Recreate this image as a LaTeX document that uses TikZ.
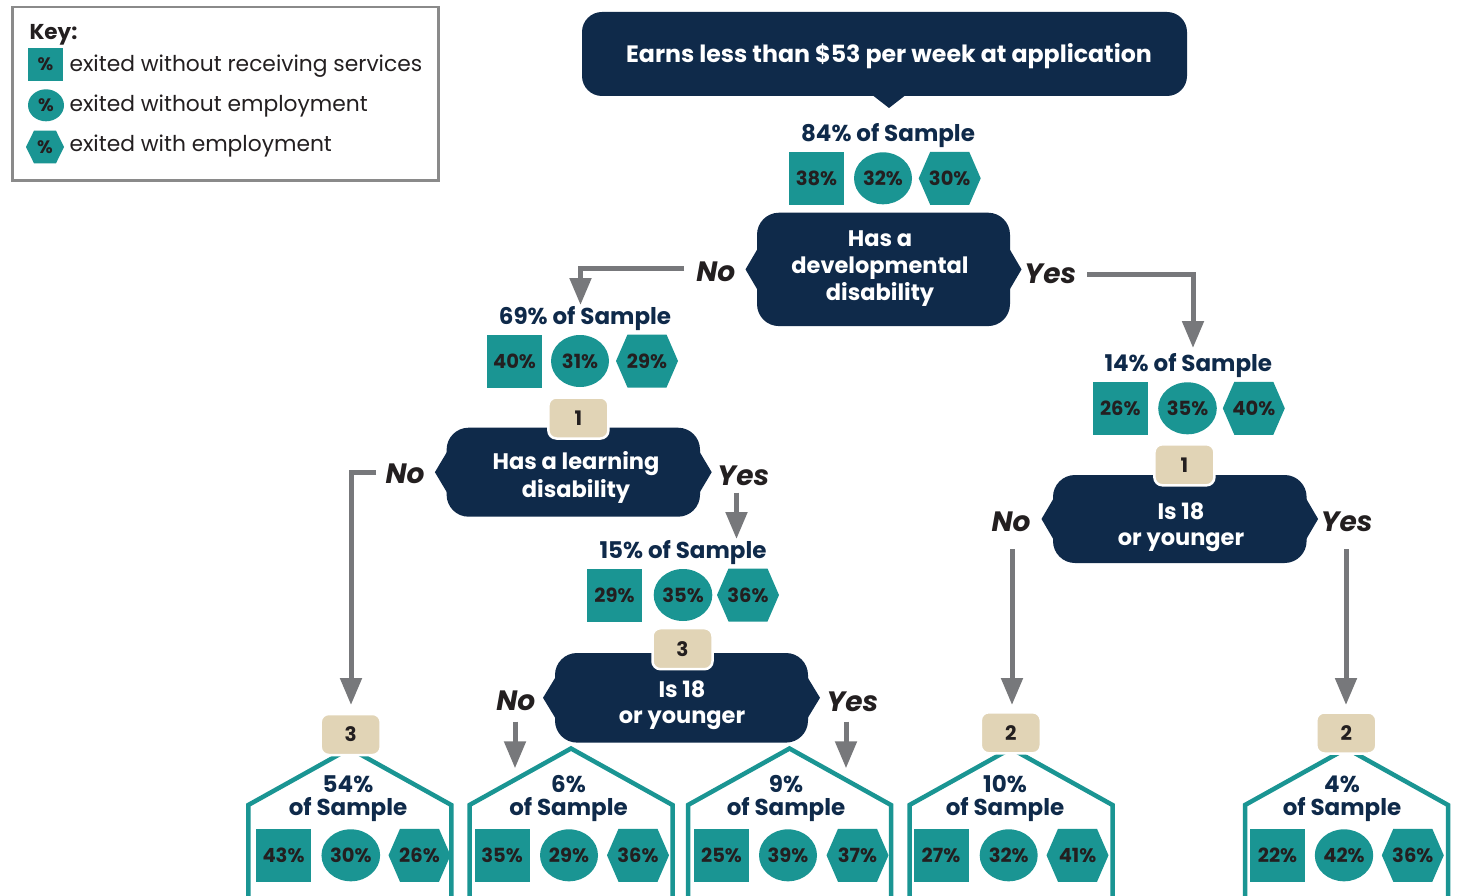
\documentclass[tikz,border=0pt]{standalone}
\usepackage{fontspec}
\setmainfont{Poppins}
\usetikzlibrary{shapes.geometric,arrows.meta}

\definecolor{navy}{HTML}{0F2A4A}
\definecolor{tealc}{HTML}{1A9593}
\definecolor{beige}{HTML}{E1D4B6}
\definecolor{ink}{HTML}{231F20}
\definecolor{flowgray}{HTML}{77787B}
\definecolor{keygray}{HTML}{8A8A8A}

\newcommand\sz[2]{\fontsize{#1}{#2}\selectfont}

% filled hexagon: cx, cy, half width, half width of flat top, half height
\newcommand\hexshape[5]{%
  \fill[tealc] (#1-#3,#2) -- (#1-#4,#2-#5) -- (#1+#4,#2-#5) -- (#1+#3,#2)
    -- (#1+#4,#2+#5) -- (#1-#4,#2+#5) -- cycle;}

% square / oval / hexagon row: prefix, x1, x2, x3, y, three values
\newcommand\trio[8]{%
  \node[pctbox] (#1sq) at (#2,#5) {#6\%};
  \node[pctoval] (#1ov) at (#3,#5) {#7\%};
  \hexshape{#4}{#5}{31}{19.5}{26.5}
  \node[pctlabel] (#1hx) at (#4,#5) {#8\%};}

% decision background: cx, cy, half width, half height, side point depth
\newcommand\decisionshape[5]{%
  \fill[navy, rounded corners=22pt] (#1-#3,#2-#4) rectangle (#1+#3,#2+#4);
  \fill[navy] (#1-#3+2,#2-23) -- (#1-#3-#5,#2) -- (#1-#3+2,#2+23) -- cycle;
  \fill[navy] (#1+#3-2,#2-23) -- (#1+#3+#5,#2) -- (#1+#3-2,#2+23) -- cycle;}

% leaf outline: cx, apex y
\newcommand\house[2]{%
  \draw[housewall] (#1-101.5,910) -- (#1-101.5,805) -- (#1,#2)
    -- (#1+101.5,805) -- (#1+101.5,910);}

\begin{document}
\begin{tikzpicture}[x=1pt,y=-1pt,
  pctbox/.style={fill=tealc, minimum width=55pt, minimum height=53pt, inner sep=0pt,
    font=\bfseries\sz{19.5}{20}, text=ink},
  pctoval/.style={ellipse, fill=tealc, minimum width=58pt, minimum height=52pt, inner sep=0pt,
    font=\bfseries\sz{19.5}{20}, text=ink},
  pctlabel/.style={inner sep=0pt, font=\bfseries\sz{19.5}{20}, text=ink},
  samp/.style={inner sep=0pt, font=\bfseries\sz{23}{23}, text=navy},
  dtext/.style={inner sep=0pt, align=center, text=white},
  answer/.style={inner sep=0pt, font=\bfseries\itshape\sz{28}{28}, text=ink},
  badge/.style={fill=beige, draw=white, line width=2.5pt, rounded corners=8pt,
    minimum width=60pt, minimum height=41pt, inner sep=0pt,
    font=\bfseries\sz{20}{20}, text=ink},
  flow/.style={draw=flowgray, line width=5pt, -{Triangle[width=21pt,length=27pt]}},
  housewall/.style={draw=tealc, line width=4.5pt},
  keytext/.style={inner sep=0pt, anchor=base west, font=\sz{21.8}{22}, text=ink},
  keymark/.style={inner sep=0pt, font=\bfseries\sz{18}{18}, text=ink}]

\useasboundingbox (0,0) rectangle (1459,896);
\clip (0,0) rectangle (1459,896);
\fill[white] (0,0) rectangle (1459,896);

% ---------- key ----------
\draw[keygray, line width=2.7pt] (12.3,7) rectangle (438.7,180.4);
\node[keytext, font=\bfseries\sz{21.5}{22}] (keytitle) at (29.3,39.3) {Key:};
\node[fill=tealc, minimum width=35pt, minimum height=33pt, inner sep=0pt,
  keymark] (keysq) at (45.5,64.3) {\%};
\node[ellipse, fill=tealc, minimum width=36pt, minimum height=32pt, inner sep=0pt,
  keymark] (keyov) at (46,105.3) {\%};
\hexshape{45}{147}{19}{11}{16.3}
\node[keymark] (keyhx) at (45,147) {\%};
\node[keytext] (keyt1) at (69.3,71.7) {exited without receiving services};
\node[keytext] (keyt2) at (69.3,111.7) {exited without employment};
\node[keytext] (keyt3) at (69.3,151.7) {exited with employment};

% ---------- root ----------
\fill[navy] (871,94) -- (889,108) -- (907,94) -- cycle;
\node[fill=navy, rounded corners=20pt, minimum width=605pt, minimum height=84pt,
  inner sep=0pt, text height=16.5pt, text depth=0pt, text=white,
  font=\bfseries\sz{23.7}{24}] (root) at (884.5,54)
  {\hspace*{9pt}Earns less than \$53 per week at application};

\node[samp, anchor=base] (s84) at (888,141.7) {84\% of Sample};
\trio{r}{816.5}{883}{949.7}{178.3}{38}{32}{30}

% ---------- developmental disability ----------
\decisionshape{883.5}{269.4}{126.5}{56.7}{11.5}
\node[dtext, anchor=north, font=\bfseries\sz{22.5}{27}] (dev) at (880,228)
  {\rule{0pt}{18pt}Has a\\developmental\\disability};
\node[answer, anchor=base] (devno) at (715.8,281.7) {No};
\node[answer, anchor=base] (devyes) at (1050.3,283.3) {Yes};

% ---------- left branch ----------
\node[samp, anchor=base] (s69) at (585,324.5) {69\% of Sample};
\trio{a}{514.5}{580}{647}{361}{40}{31}{29}

\decisionshape{573.3}{472.2}{126.7}{44.5}{11.7}
\node[dtext, anchor=north, font=\bfseries\sz{22.5}{28}] (learn) at (576,451)
  {\rule{0pt}{18pt}Has a learning\\disability};
\node[badge] (ba) at (578.4,418) {1};
\node[answer, anchor=base] (learnno) at (405,483.3) {No};
\node[answer, anchor=base] (learnyes) at (743.3,485) {Yes};

\node[samp, anchor=base] (s15) at (683,558.5) {15\% of Sample};
\trio{b}{614.5}{683}{748}{595}{29}{35}{36}

\decisionshape{681.5}{697.8}{126.5}{44.8}{12}
\node[dtext, anchor=north, font=\bfseries\sz{22.5}{26}] (ageb) at (682,679)
  {\rule{0pt}{18pt}Is 18\\or younger};
\node[badge] (bb) at (682.5,648.7) {3};
\node[answer, anchor=base] (agebno) at (515.8,710) {No};
\node[answer, anchor=base] (agebyes) at (852.5,711) {Yes};

% ---------- right branch ----------
\node[samp, anchor=base] (s14) at (1188.3,371.7) {14\% of Sample};
\trio{c}{1120.3}{1187.5}{1253.8}{408.3}{26}{35}{40}

\decisionshape{1179.8}{519}{126.8}{44}{11.5}
\node[dtext, anchor=north, font=\bfseries\sz{22.5}{26}] (agec) at (1181,501)
  {\rule{0pt}{18pt}Is 18\\or younger};
\node[badge] (bc) at (1184.4,464.8) {1};
\node[answer, anchor=base] (agecno) at (1011,531.5) {No};
\node[answer, anchor=base] (agecyes) at (1346.7,531.7) {Yes};

% ---------- leaves ----------
\house{349.8}{748.5}
\house{571}{748.5}
\house{789.5}{748.5}
\house{1011}{748.5}
\house{1346.5}{748.5}

\node[badge] (l1badge) at (350.7,734.5) {3};
\node[badge] (l4badge) at (1010.8,732.8) {2};
\node[badge] (l5badge) at (1346.3,733) {2};

\node[samp, anchor=base] (l1p) at (348,792) {54\%};
\node[samp, anchor=base] (l1s) at (348,815) {of Sample};
\trio{l1}{283.5}{350.8}{419.5}{855.3}{43}{30}{26}

\node[samp, anchor=base] (l2p) at (568.5,792) {6\%};
\node[samp, anchor=base] (l2s) at (568.5,815) {of Sample};
\trio{l2}{502}{569}{638}{855.3}{35}{29}{36}

\node[samp, anchor=base] (l3p) at (786,792) {9\%};
\node[samp, anchor=base] (l3s) at (786,815) {of Sample};
\trio{l3}{721.5}{788}{857.5}{855.3}{25}{39}{37}

\node[samp, anchor=base] (l4p) at (1005,792) {10\%};
\node[samp, anchor=base] (l4s) at (1005,815) {of Sample};
\trio{l4}{941}{1008.7}{1077.5}{855.3}{27}{32}{41}

\node[samp, anchor=base] (l5p) at (1342,792) {4\%};
\node[samp, anchor=base] (l5s) at (1342,815) {of Sample};
\trio{l5}{1277.5}{1344}{1412.8}{855.3}{22}{42}{36}

% ---------- connectors ----------
\coordinate (devno-out) at (684,268.3);
\coordinate (devno-in) at (580.5,305);
\coordinate (devyes-out) at (1087,274);
\coordinate (devyes-in) at (1193,348);
\coordinate (learnno-out) at (376,472.5);
\coordinate (learnno-in) at (351,705);
\coordinate (learnyes-out) at (736.5,492.7);
\coordinate (learnyes-in) at (736.5,539);
\coordinate (agebno-out) at (515,721.7);
\coordinate (agebno-in) at (515,768.3);
\coordinate (agebyes-out) at (846,721.7);
\coordinate (agebyes-in) at (846,768.3);
\coordinate (agecno-out) at (1012,549);
\coordinate (agecno-in) at (1012,705);
\coordinate (agecyes-out) at (1346,549);
\coordinate (agecyes-in) at (1346,705);

\draw[flow] (devno-out) -| (devno-in);
\draw[flow] (devyes-out) -| (devyes-in);
\draw[flow] (learnno-out) -| (learnno-in);
\draw[flow] (learnyes-out) -- (learnyes-in);
\draw[flow] (agebno-out) -- (agebno-in);
\draw[flow] (agebyes-out) -- (agebyes-in);
\draw[flow] (agecno-out) -- (agecno-in);
\draw[flow] (agecyes-out) -- (agecyes-in);
\end{tikzpicture}
\end{document}
